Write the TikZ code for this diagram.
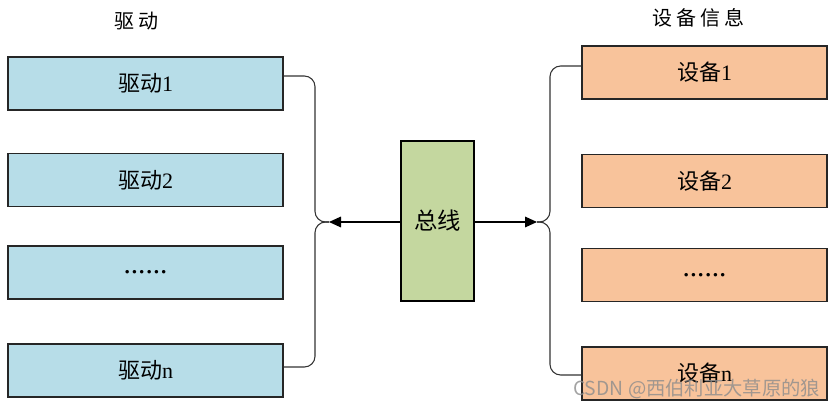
\documentclass[tikz,border=0pt]{standalone}
\usepackage{fontspec}
\setmainfont{Liberation Serif}
\newfontfamily\cjk{Noto Sans CJK SC}
\usetikzlibrary{arrows.meta}
\definecolor{drvblue}{HTML}{B7DDE8}
\definecolor{devorange}{HTML}{F8C39B}
\definecolor{busgreen}{HTML}{C4D79F}
\newcommand{\mydots}{{\fontsize{22}{24}\selectfont ......}}
\begin{document}
\begin{tikzpicture}[x=0.75pt,y=-0.75pt,
  box/.style={draw=black!85,line width=0.9pt,minimum width=206.25pt,minimum height=39.75pt,inner sep=0pt,font=\fontsize{16.5}{18}\selectfont},
  drvbox/.style={box,fill=drvblue},
  devbox/.style={box,fill=devorange,minimum width=183.75pt},
  brace/.style={draw=black!80,line width=0.8pt,rounded corners=8pt},
  arr/.style={draw=black,line width=0.9pt,-{Triangle[length=9pt,width=8pt]}},
  title/.style={font=\cjk\fontsize{15}{17}\selectfont}]
\useasboundingbox (0,0) rectangle (840,410);
\node[title] (tl) at (136,21) {驱\hspace{3pt}动};
\node[title] (tr) at (698,18) {设\hspace{3pt}备\hspace{3pt}信\hspace{3pt}息};
\node[drvbox] (d1) at (145.5,83.5) {{\cjk 驱动}1};
\node[drvbox] (d2) at (145.5,180) {{\cjk 驱动}2};
\node[drvbox] (d3) at (145.5,272.5) {\mydots};
\node[drvbox] (dn) at (145.5,370.5) {{\cjk 驱动}n};
\node[devbox] (e1) at (704.5,72.5) {{\cjk 设备}1};
\node[devbox] (e2) at (704.5,181) {{\cjk 设备}2};
\node[devbox] (e3) at (704.5,275) {\mydots};
\node[devbox] (en) at (704.5,373.5) {{\cjk 设备}n};
\node[draw=black,line width=0.9pt,fill=busgreen,minimum width=54.75pt,minimum height=120pt,inner sep=0pt,font=\cjk\fontsize{17.5}{19}\selectfont] (bus) at (437.5,221) {总线};
\coordinate (lt) at (329,222);
\coordinate (rt) at (537,222);
% left brace
\draw[brace] (d1.east|-0,76) -| (315,222) -- (lt);
\draw[brace] (lt) -- (315,222) |- (dn.east|-0,367);
% right brace
\draw[brace] (e1.west|-0,66) -| (550,222) -- (rt);
\draw[brace] (rt) -- (550,222) |- (en.west|-0,375);
% arrows
\draw[arr] (bus.west|-lt) -- (lt);
\draw[arr] (bus.east|-rt) -- (rt);
% watermark
\node[text=black!45,opacity=0.8,font=\cjk\fontsize{14.5}{16}\selectfont,anchor=east] (wm) at (825,389) {CSDN @西伯利亚大草原的狼};
\end{tikzpicture}
\end{document}
